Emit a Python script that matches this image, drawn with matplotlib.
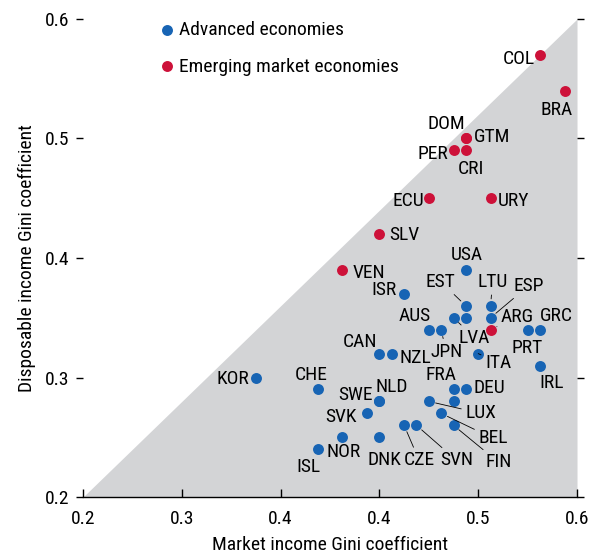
import matplotlib.pyplot as plt
import numpy as np

plt.rcParams['font.family'] = ['Liberation Sans Narrow', 'Roboto Condensed', 'DejaVu Sans']
plt.rcParams['font.stretch'] = 'condensed'

# advanced economies: market Gini, disposable Gini
adv_names = ["USA", "ISR", "EST", "LTU", "LVA", "", "ESP", "AUS", "JPN", "PRT", "GRC",
             "CAN", "NZL", "ITA", "IRL", "KOR", "CHE", "FRA", "DEU", "NLD", "SWE",
             "LUX", "", "SVK", "BEL", "FIN", "CZE", "SVN", "NOR", "DNK", "ISL"]
adv_market = [0.51, 0.46, 0.51, 0.53, 0.50, 0.51, 0.53, 0.48, 0.49, 0.56, 0.57,
              0.44, 0.45, 0.52, 0.57, 0.34, 0.39, 0.50, 0.51, 0.44, 0.44,
              0.48, 0.50, 0.43, 0.49, 0.50, 0.46, 0.47, 0.41, 0.44, 0.39]
adv_disp = [0.39, 0.37, 0.36, 0.36, 0.35, 0.35, 0.35, 0.34, 0.34, 0.34, 0.34,
            0.32, 0.32, 0.32, 0.31, 0.30, 0.29, 0.29, 0.29, 0.28, 0.28,
            0.28, 0.28, 0.27, 0.27, 0.26, 0.26, 0.26, 0.25, 0.25, 0.24]

# emerging market economies
em_names = ["COL", "BRA", "DOM", "GTM", "PER", "CRI", "ECU", "URY", "SLV", "VEN", "ARG"]
em_market = [0.57, 0.59, 0.51, 0.51, 0.50, 0.51, 0.48, 0.53, 0.44, 0.41, 0.53]
em_disp = [0.57, 0.54, 0.50, 0.50, 0.49, 0.49, 0.45, 0.45, 0.42, 0.39, 0.34]

# label placement: offset in pixels, horizontal alignment, leader line
labels = {
    "COL": (-5, -4, 'right', False), "BRA": (-8, -19, 'center', False),
    "DOM": (-20, 14, 'center', False), "GTM": (8, 1, 'left', False),
    "PER": (-5, -4, 'right', False), "CRI": (5, -19, 'center', False),
    "ECU": (-5, -3, 'right', False), "URY": (7, -3, 'left', False),
    "SLV": (10, -1, 'left', False), "VEN": (10, -3, 'left', False),
    "ARG": (27, 13, 'center', True),
    "USA": (1, 15, 'center', False), "ISR": (-7, 4, 'right', False),
    "EST": (-25, 24, 'center', True), "LTU": (2, 24, 'center', True),
    "ESP": (38, 32, 'center', True), "AUS": (-14, 14, 'center', False),
    "LVA": (21, -20, 'center', True), "JPN": (5, -22, 'center', True),
    "PRT": (0, -18, 'center', False), "GRC": (16, 14, 'center', False),
    "CAN": (-19, 12, 'center', False), "NZL": (8, -4, 'left', False),
    "ITA": (20, -9, 'center', True), "IRL": (12, -17, 'center', False),
    "KOR": (-7, -1, 'right', False), "CHE": (-6, 14, 'center', False),
    "FRA": (-13, 14, 'center', False), "DEU": (8, 1, 'left', False),
    "NLD": (12, 14, 'center', False), "SWE": (-24, 6, 'center', False),
    "LUX": (52, -12, 'center', True), "SVK": (-10, -4, 'right', False),
    "BEL": (52, -25, 'center', True), "FIN": (45, -37, 'center', True),
    "CZE": (15, -35, 'center', True), "SVN": (40, -35, 'center', True),
    "NOR": (1, -15, 'center', False), "DNK": (5, -23, 'center', False),
    "ISL": (-9, -18, 'center', False),
}

blue = '#1764b4'
red = '#cd1139'
fs = 14

fig = plt.figure(figsize=(5.98, 5.57), dpi=100)
ax = fig.add_axes([0.1388, 0.1077, 0.8261, 0.8582])

ax.fill_between([0.2, 0.6], [0.2, 0.2], [0.2, 0.6], color='#d3d4d6', lw=0, zorder=0)

ax.scatter(adv_market, adv_disp, s=62, color=blue, lw=0, zorder=3, label='Advanced economies')
ax.scatter(em_market, em_disp, s=62, color=red, lw=0, zorder=3, label='Emerging market economies')

for names, xs, ys in [(adv_names, adv_market, adv_disp), (em_names, em_market, em_disp)]:
    for n, x, y in zip(names, xs, ys):
        if n not in labels:
            continue
        dx, dy, ha, lead = labels[n]
        arrow = dict(arrowstyle='-', lw=0.6, color='black', shrinkA=1, shrinkB=5) if lead else None
        ax.annotate(n, (x, y), xytext=(dx, dy), textcoords='offset pixels',
                    ha=ha, va='center', fontsize=fs, arrowprops=arrow, zorder=4)

ax.set_xlim(0.2, 0.6)
ax.set_ylim(0.2, 0.6)
xt = np.linspace(0.2, 0.6, 6)
ax.set_xticks(xt)
ax.set_xticklabels([f'{t:.1f}' for t in xt])
ax.set_yticks([0.2, 0.3, 0.4, 0.5, 0.6])
ax.set_yticklabels(['0.2', '0.3', '0.4', '0.5', '0.6'])

for s in ['top', 'left', 'right']:
    ax.spines[s].set_visible(False)
ax.spines['bottom'].set_linewidth(1)
ax.tick_params(axis='x', direction='in', length=6, width=1, pad=9, labelsize=fs)
ax.tick_params(axis='y', direction='out', length=5, width=1, pad=5, labelsize=fs,
               left=True, right=True)

ax.set_xlabel('Market income Gini coefficient', fontsize=fs, labelpad=6)
ax.set_ylabel('Disposable income Gini coefficient', fontsize=fs, labelpad=6)

ax.legend(loc='upper left', bbox_to_anchor=(0.133, 1.012), frameon=False, fontsize=fs,
          handletextpad=0.05, labelspacing=0.95, handlelength=1.1, borderaxespad=0)

fig.savefig('out.png', dpi=100)
